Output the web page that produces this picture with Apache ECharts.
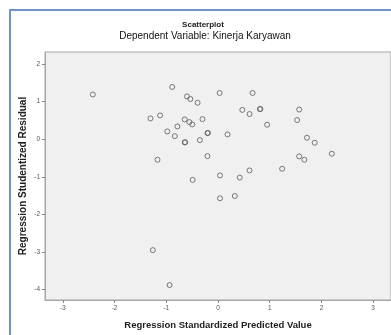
<!DOCTYPE html>
<html>
<head>
<meta charset="utf-8">
<script src="https://cdn.jsdelivr.net/npm/echarts@6/dist/echarts.min.js"></script>
<style>
  html, body { margin: 0; padding: 0; background: #fff; }
  #chart { width: 391px; height: 335px; }
</style>
</head>
<body>
<div id="chart"></div>
<script>
// standardized predicted value (x) / studentized residual (y)
const predicted = [
  -2.42, -0.885, -0.60, -0.535, -0.395, 0.032, 0.669, -1.305, -1.12, -0.784,
  -0.98, -0.835, -0.644, -0.554, -0.497, -0.30, -0.204, -0.194, 0.185, -0.35,
  -0.644, -0.634, -1.17, -0.204, 0.47, 0.61, 0.81, 0.82, 0.95, 1.57,
  1.53, 1.72, 1.87, 2.20, 1.57, 1.67, 1.24, -0.49, 0.038, 0.42,
  0.61, 0.038, 0.325, -1.26, -0.936
];
const residual = [
  1.19, 1.39, 1.14, 1.07, 0.97, 1.23, 1.23, 0.553, 0.633, 0.34,
  0.207, 0.083, 0.527, 0.455, 0.394, 0.535, 0.162, 0.168, 0.128, -0.024,
  -0.085, -0.079, -0.545, -0.45, 0.78, 0.67, 0.80, 0.806, 0.385, 0.79,
  0.51, 0.04, -0.093, -0.386, -0.457, -0.545, -0.785, -1.08, -0.963, -1.02,
  -0.83, -1.57, -1.51, -2.95, -3.88
];
const xTicks = [-3, -2, -1, 0, 1, 2, 3];
const yTicks = [2, 1, 0, -1, -2, -3, -4];

const chart = echarts.init(document.getElementById("chart"));

const option = {
  animation: false,
  backgroundColor: "#fff",
  textStyle: { fontFamily: "Liberation Sans, Arial, sans-serif" },
  title: [
    {
      text: "Scatterplot",
      left: 198,
      top: 16,
      textAlign: "center",
      textStyle: { fontSize: 8, fontWeight: "bold", color: "#222" },
    },
    {
      text: "Dependent Variable: Kinerja Karyawan",
      left: 200,
      top: 26,
      textAlign: "center",
      textStyle: { fontSize: 10, fontWeight: "normal", color: "#111" },
    },
  ],
  graphic: [
    {
      type: "rect",
      shape: { x: 10, y: 10, width: 400, height: 340 },
      style: { fill: null, stroke: "#6f95c8", lineWidth: 2 },
      silent: true,
      z: 100,
    },
  ],
  grid: {
    left: 45,
    top: 52,
    width: 350,
    height: 248,
    show: true,
    backgroundColor: "#f0f0f0",
    borderColor: "#a6a6a6",
    borderWidth: 1,
  },
  xAxis: {
    type: "value",
    min: -3.345,
    max: 3.345,
    name: "Regression Standardized Predicted Value",
    nameLocation: "middle",
    nameGap: 20,
    nameMoveOverlap: false,
    nameTextStyle: { fontSize: 9.5, fontWeight: "bold", color: "#222" },
    axisLine: { show: true, onZero: false, lineStyle: { color: "#a6a6a6" } },
    axisTick: {
      show: true,
      length: 3,
      customValues: xTicks,
      lineStyle: { color: "#888" },
    },
    axisLabel: {
      customValues: xTicks,
      fontSize: 6.5,
      color: "#555",
      margin: 5,
    },
    splitLine: { show: false },
  },
  yAxis: {
    type: "value",
    min: -4.276,
    max: 2.32,
    name: "Regression Studentized Residual",
    nameLocation: "middle",
    nameGap: 17,
    nameMoveOverlap: false,
    nameTextStyle: { fontSize: 10, fontWeight: "bold", color: "#222" },
    axisLine: { show: true, onZero: false, lineStyle: { color: "#a6a6a6" } },
    axisTick: {
      show: true,
      length: 3,
      customValues: yTicks,
      lineStyle: { color: "#888" },
    },
    axisLabel: {
      customValues: yTicks,
      fontSize: 6.5,
      color: "#555",
      margin: 5,
    },
    splitLine: { show: false },
  },
  series: [
    {
      type: "scatter",
      symbol: "circle",
      symbolSize: 5,
      data: predicted.map((x, i) => [x, residual[i]]),
      itemStyle: {
        color: "rgba(0,0,0,0)",
        borderColor: "#5a5a5a",
        borderWidth: 1,
      },
    },
  ],
};

chart.setOption(option);
</script>
</body>
</html>
